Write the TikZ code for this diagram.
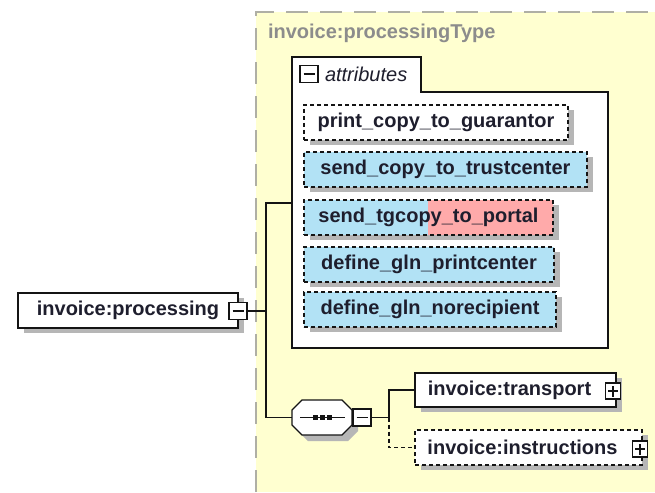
\documentclass[tikz,border=0pt]{standalone}
\usepackage{fontspec}
\setmainfont{Liberation Sans}
\usetikzlibrary{shadows}
\definecolor{bgyellow}{RGB}{255,255,208}
\definecolor{bordergrey}{RGB}{175,175,165}
\definecolor{titlegrey}{RGB}{140,140,140}
\definecolor{txtc}{RGB}{30,30,45}
\definecolor{linec}{RGB}{20,20,20}
\definecolor{shadowc}{RGB}{182,182,182}
\definecolor{attrblue}{RGB}{178,226,245}
\definecolor{attrpink}{RGB}{255,170,170}
\begin{document}
\begin{tikzpicture}[x=1pt,y=-1pt,
  every node/.style={inner sep=0pt, outer sep=0pt},
  shad/.style={drop shadow={shadow xshift=6pt, shadow yshift=-5pt, fill=shadowc, opacity=1}},
  lbl/.style={font=\fontsize{20}{22}\selectfont\bfseries, text=txtc},
  elem/.style={lbl, draw=linec, line width=1.3pt, fill=white, minimum height=35pt, anchor=north west, shad},
  optelem/.style={elem, dash pattern=on 4pt off 3pt},
  attr/.style={optelem, fill=attrblue},
  pmbox/.style={draw=linec, line width=1.1pt, fill=white, minimum width=18pt, minimum height=17pt},
  minusbox/.style={pmbox, path picture={\draw[linec, line width=1.1pt] ([xshift=-5.5pt]path picture bounding box.center) -- ([xshift=5.5pt]path picture bounding box.center);}},
  plusbox/.style={pmbox, minimum width=15pt, minimum height=16pt, path picture={\draw[linec, line width=1.1pt] ([xshift=-5pt]path picture bounding box.center) -- ([xshift=5pt]path picture bounding box.center) ([yshift=-5.5pt]path picture bounding box.center) -- ([yshift=5.5pt]path picture bounding box.center);}},
  conn/.style={draw=linec, line width=1.2pt},
]
\useasboundingbox (0,0) rectangle (655,492);
% background of the complex type
\fill[bgyellow] (256,12) rectangle (655,492);
\draw[bordergrey, line width=1.5pt, dash pattern=on 22pt off 12pt] (256,492) -- (256,12) -- (655,12);
\node[anchor=west, font=\fontsize{20}{22}\selectfont\bfseries, text=titlegrey] (title) at (268,33) {invoice:processingType};

% attributes container
\draw[linec, line width=1.3pt, fill=white] (292,348) -- (292,57) -- (421,57) -- (421,92) -- (608,92) -- (608,348) -- cycle;
\node[minimum width=316pt, minimum height=256pt, anchor=north west] (attrs) at (292,92) {};
\node[minusbox] (attrm) at (309,74) {};
\node[anchor=west, font=\fontsize{20}{22}\selectfont\itshape, text=txtc] (attrlbl) at (325,74) {attributes};

\node[optelem, minimum width=264pt] (a1) at (304,105) {print\_copy\_to\_guarantor};
\node[attr, minimum width=283pt] (a2) at (304,152) {send\_copy\_to\_trustcenter};
\node[attr, minimum width=249pt, path picture={\fill[attrpink] ([xshift=124pt]path picture bounding box.north west) rectangle (path picture bounding box.south east);}] (a3) at (304,200) {send\_tgcopy\_to\_portal};
\node[attr, minimum width=250pt] (a4) at (304,247) {define\_gln\_printcenter};
\node[attr, minimum width=252pt] (a5) at (304,292) {define\_gln\_norecipient};

% root element
\node[elem, minimum width=220pt] (proc) at (18,293) {invoice:processing};
\node[minusbox] (procm) at (238,311) {};

% sequence compositor
\node[minimum width=60pt, minimum height=35pt] (seq) at (322,417.5) {};
\fill[shadowc] (308,406) -- (348,406) -- (358,416) -- (358,431) -- (348,441) -- (308,441) -- (298,431) -- (298,416) -- cycle;
\draw[linec, line width=1.3pt, fill=white] (302,400) -- (342,400) -- (352,410) -- (352,425) -- (342,435) -- (302,435) -- (292,425) -- (292,410) -- cycle;
\draw[linec, line width=1.2pt] (300,417.5) -- (345,417.5);
\foreach \sx in {315,322,329} \fill[linec] (\sx-2.5,415) rectangle (\sx+2.5,420);
\node[minusbox] (seqm) at (362,417.5) {};

% child elements
\node[elem, minimum width=201pt, minimum height=34pt] (trans) at (415,373) {invoice:transport\hspace*{12pt}};
\node[plusbox] (transp) at (613,391) {};
\node[optelem, minimum width=227pt] (instr) at (415,430) {invoice:instructions\hspace*{12pt}};
\node[plusbox] (instrp) at (640,449) {};

% connectors
\coordinate (j1) at (266,311);
\coordinate (jt) at (266,203);
\coordinate (jb) at (266,417.5);
\coordinate (attrin) at (292,203);
\coordinate (js) at (389,417.5);
\draw[conn] (procm.east) -- (j1);
\draw[conn] (attrin) -- (jt) -- (jb) -- (seq.west);
\draw[conn] (seqm.east) -- (js) |- (trans.west);
\draw[conn, dash pattern=on 4pt off 3pt] (js) |- (instr.west);
\end{tikzpicture}
\end{document}
